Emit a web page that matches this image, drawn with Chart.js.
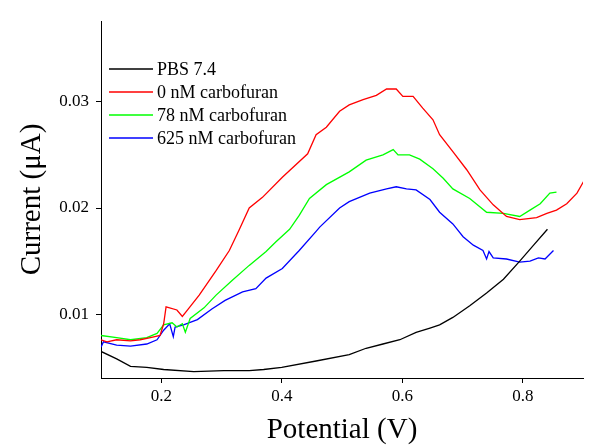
<!DOCTYPE html>
<html lang="en">
<head>
<meta charset="UTF-8">
<title>Current vs Potential</title>
<script src="https://cdn.jsdelivr.net/npm/chart.js"></script>
<style>
  html, body { margin: 0; padding: 0; background: #fff; }
  #box { width: 603px; height: 445px; }
</style>
</head>
<body>
<div id="box"><canvas id="grafico"></canvas></div>
<script>
// values (potential in V, current in µA)
const seriesNames = ['PBS 7.4', '0 nM carbofuran', '78 nM carbofuran', '625 nM carbofuran'];
const seriesColors = ['#000000', '#ff0000', '#00ff00', '#0000ff'];

const pbsX = [0.100, 0.126, 0.149, 0.176, 0.204, 0.254, 0.304, 0.346, 0.370, 0.400, 0.457, 0.512, 0.540, 0.568, 0.596, 0.623, 0.646, 0.662, 0.684, 0.712, 0.740, 0.768, 0.795, 0.818, 0.841];
const pbsY = [0.0065, 0.0058, 0.0051, 0.0050, 0.0048, 0.0046, 0.0047, 0.0047, 0.0048, 0.0050, 0.0056, 0.0062, 0.0068, 0.0072, 0.0076, 0.0083, 0.0087, 0.0090, 0.0097, 0.0108, 0.0120, 0.0133, 0.0150, 0.0165, 0.0180];

const c0X = [0.100, 0.110, 0.126, 0.149, 0.165, 0.182, 0.198, 0.204, 0.208, 0.226, 0.235, 0.245, 0.263, 0.291, 0.313, 0.329, 0.346, 0.368, 0.401, 0.443, 0.457, 0.474, 0.496, 0.512, 0.535, 0.557, 0.574, 0.590, 0.601, 0.618, 0.634, 0.651, 0.662, 0.684, 0.707, 0.729, 0.751, 0.773, 0.795, 0.823, 0.840, 0.856, 0.873, 0.890, 0.901];
const c0Y = [0.0076, 0.0074, 0.0076, 0.0075, 0.0076, 0.0078, 0.0080, 0.0091, 0.0107, 0.0104, 0.0098, 0.0105, 0.0118, 0.0141, 0.0160, 0.0179, 0.0200, 0.0210, 0.0229, 0.0251, 0.0269, 0.0276, 0.0291, 0.0297, 0.0302, 0.0306, 0.0312, 0.0312, 0.0305, 0.0305, 0.0294, 0.0283, 0.0269, 0.0253, 0.0236, 0.0217, 0.0203, 0.0192, 0.0189, 0.0191, 0.0195, 0.0198, 0.0204, 0.0214, 0.0225];

const c78X = [0.100, 0.126, 0.149, 0.176, 0.193, 0.204, 0.218, 0.226, 0.235, 0.240, 0.248, 0.271, 0.291, 0.318, 0.346, 0.374, 0.390, 0.413, 0.429, 0.446, 0.474, 0.512, 0.540, 0.568, 0.585, 0.593, 0.612, 0.629, 0.651, 0.668, 0.684, 0.712, 0.740, 0.768, 0.795, 0.812, 0.829, 0.845, 0.856];
const c78Y = [0.0080, 0.0078, 0.0076, 0.0078, 0.0082, 0.0090, 0.0092, 0.0088, 0.0091, 0.0083, 0.0096, 0.0106, 0.0118, 0.0132, 0.0146, 0.0159, 0.0168, 0.0180, 0.0193, 0.0209, 0.0222, 0.0234, 0.0245, 0.0250, 0.0255, 0.0250, 0.0250, 0.0246, 0.0237, 0.0228, 0.0218, 0.0209, 0.0196, 0.0195, 0.0192, 0.0198, 0.0204, 0.0214, 0.0215];

const c625X = [0.100, 0.104, 0.126, 0.149, 0.176, 0.193, 0.204, 0.214, 0.220, 0.223, 0.237, 0.260, 0.284, 0.306, 0.335, 0.357, 0.374, 0.401, 0.429, 0.457, 0.463, 0.496, 0.512, 0.546, 0.574, 0.590, 0.607, 0.623, 0.646, 0.662, 0.684, 0.701, 0.718, 0.734, 0.740, 0.744, 0.751, 0.773, 0.795, 0.812, 0.826, 0.837, 0.851];
const c625Y = [0.0069, 0.0074, 0.0071, 0.0070, 0.0072, 0.0076, 0.0085, 0.0091, 0.0079, 0.0088, 0.0090, 0.0095, 0.0105, 0.0113, 0.0121, 0.0124, 0.0134, 0.0143, 0.0160, 0.0178, 0.0182, 0.0200, 0.0206, 0.0214, 0.0218, 0.0220, 0.0218, 0.0217, 0.0208, 0.0196, 0.0185, 0.0173, 0.0165, 0.0160, 0.0152, 0.0159, 0.0153, 0.0152, 0.0149, 0.0150, 0.0153, 0.0152, 0.0160];

const xTicks = [0.2, 0.4, 0.6, 0.8];
const yTicks = [0.01, 0.02, 0.03];

const serif = '"Liberation Serif", "Times New Roman", serif';

function pares(xs, ys) {
    return xs.map((x, i) => ({ x: x, y: ys[i] }));
}

const allX = [pbsX, c0X, c78X, c625X];
const allY = [pbsY, c0Y, c78Y, c625Y];

const datasets = seriesNames.map((name, i) => ({
    label: name,
    data: pares(allX[i], allY[i]),
    borderColor: seriesColors[i],
    backgroundColor: seriesColors[i],
    borderWidth: 1.3,
    pointRadius: 0,
    showLine: true,
    tension: 0,
    fill: false
}));

// legend drawn inside the plot, top-left, like the original
const leyenda = {
    id: 'leyenda',
    afterDraw(chart) {
        const ctx = chart.ctx;
        const area = chart.chartArea;
        const x0 = area.left + 8;
        let y = area.top + 48;
        ctx.save();
        ctx.font = '18px ' + serif;
        ctx.textBaseline = 'middle';
        chart.data.datasets.forEach(ds => {
            ctx.strokeStyle = ds.borderColor;
            ctx.lineWidth = 1.3;
            ctx.beginPath();
            ctx.moveTo(x0, y);
            ctx.lineTo(x0 + 44, y);
            ctx.stroke();
            ctx.fillStyle = '#000';
            ctx.fillText(ds.label, x0 + 48, y + 1);
            y += 23;
        });
        ctx.restore();
    }
};

const ctx = document.getElementById('grafico').getContext('2d');
const grafico = new Chart(ctx, {
    type: 'scatter',
    data: { datasets: datasets },
    options: {
        responsive: true,
        maintainAspectRatio: false,
        animation: false,
        layout: { padding: { left: 0, right: 20, top: 21, bottom: 0 } },
        plugins: {
            legend: { display: false },
            tooltip: { enabled: false }
        },
        scales: {
            x: {
                type: 'linear',
                min: 0.1,
                max: 0.9,
                afterBuildTicks: s => { s.ticks = xTicks.map(v => ({ value: v })); },
                afterFit: s => { s.height = 67; },
                border: { display: true, color: '#000', width: 1 },
                grid: { display: true, drawOnChartArea: false, drawTicks: true, tickLength: 5, color: '#000' },
                ticks: {
                    color: '#000',
                    padding: 3,
                    font: { family: serif, size: 17 },
                    callback: v => v.toFixed(1)
                },
                title: {
                    display: true,
                    text: 'Potential (V)',
                    color: '#000',
                    font: { family: serif, size: 29 },
                    padding: { top: 0, bottom: -3 }
                }
            },
            y: {
                type: 'linear',
                min: 0.004,
                max: 0.0376,
                afterBuildTicks: s => { s.ticks = yTicks.map(v => ({ value: v })); },
                afterFit: s => { s.width = 101; },
                border: { display: true, color: '#000', width: 1 },
                grid: { display: true, drawOnChartArea: false, drawTicks: true, tickLength: 5, color: '#000' },
                ticks: {
                    color: '#000',
                    padding: 7,
                    font: { family: serif, size: 17 },
                    callback: v => v.toFixed(2)
                },
                title: {
                    display: true,
                    text: 'Current (μA)',
                    color: '#000',
                    font: { family: serif, size: 29 },
                    padding: { top: 15, bottom: 0 }
                }
            }
        }
    },
    plugins: [leyenda]
});
</script>
</body>
</html>
